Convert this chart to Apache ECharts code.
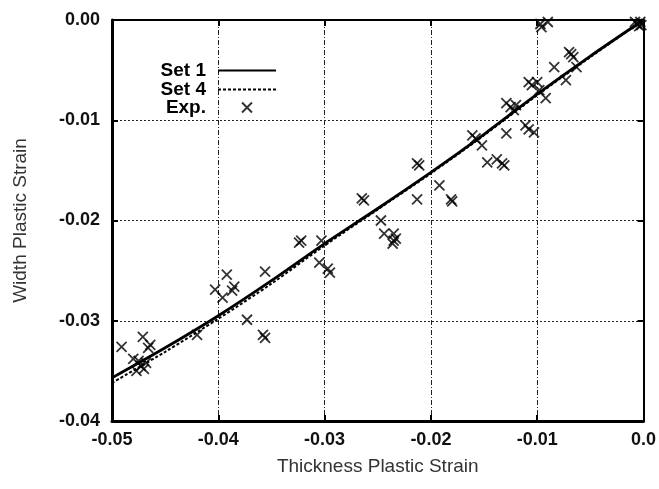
<!DOCTYPE html>
<html>
<head>
<meta charset="utf-8">
<script src="https://cdn.jsdelivr.net/npm/echarts@6/dist/echarts.min.js"></script>
<style>
html,body{margin:0;padding:0;background:#fff}
#chart{width:659px;height:489px}
</style>
</head>
<body>
<div id="chart"></div>
<script>
// Thickness strain sampling for the two simulated curves
const strainX = [-0.05, -0.045, -0.04, -0.035, -0.03, -0.025, -0.02, -0.015, -0.01, -0.005, 0];
const set1 = [-0.0357, -0.0327, -0.0295, -0.0260, -0.0223, -0.0188, -0.0152, -0.0114, -0.0074, -0.0036, 0];
const set4 = [-0.0362, -0.0331, -0.0298, -0.0263, -0.0225, -0.0189, -0.0153, -0.0115, -0.0075, -0.0037, 0];

// Experimental measurements [thickness strain, width strain]
const expPoints = [
  [-0.0003,-0.0002],[-0.0006,-0.0004],[-0.0002,-0.0005],[-0.0008,-0.0002],[-0.0004,-0.0006],
  [-0.0097,-0.0004],[-0.0096,-0.0007],[-0.0090,-0.0002],
  [-0.0070,-0.0032],[-0.0068,-0.0034],[-0.0066,-0.0037],[-0.0063,-0.0047],
  [-0.0084,-0.0047],[-0.0073,-0.0060],
  [-0.0108,-0.0062],[-0.0105,-0.0065],[-0.0100,-0.0062],[-0.0098,-0.0070],[-0.0092,-0.0078],
  [-0.0129,-0.0083],[-0.0125,-0.0087],[-0.0120,-0.0085],[-0.0122,-0.0090],
  [-0.0111,-0.0105],[-0.0108,-0.0109],[-0.0103,-0.0112],
  [-0.0129,-0.0113],
  [-0.0161,-0.0115],[-0.0158,-0.0118],[-0.0152,-0.0125],
  [-0.0147,-0.0142],[-0.0138,-0.0139],[-0.0133,-0.0143],[-0.0131,-0.0145],
  [-0.0213,-0.0143],[-0.0211,-0.0145],
  [-0.0192,-0.0165],
  [-0.0213,-0.0179],
  [-0.0181,-0.0179],[-0.0180,-0.0181],
  [-0.0265,-0.0178],[-0.0263,-0.0180],
  [-0.0247,-0.0200],
  [-0.0244,-0.0213],
  [-0.0235,-0.0213],[-0.0235,-0.0220],[-0.0236,-0.0223],[-0.0233,-0.0218],
  [-0.0324,-0.0222],[-0.0322,-0.0220],
  [-0.0303,-0.0220],
  [-0.0305,-0.0242],
  [-0.0297,-0.0248],[-0.0295,-0.0252],
  [-0.0356,-0.0251],
  [-0.0392,-0.0254],
  [-0.0403,-0.0269],
  [-0.0385,-0.0266],[-0.0387,-0.0270],
  [-0.0396,-0.0277],
  [-0.0373,-0.0299],
  [-0.0420,-0.0314],
  [-0.0358,-0.0314],[-0.0356,-0.0317],
  [-0.0491,-0.0326],
  [-0.0471,-0.0316],
  [-0.0464,-0.0324],[-0.0466,-0.0327],
  [-0.0475,-0.0340],[-0.0473,-0.0345],[-0.0470,-0.0348],[-0.0477,-0.0350],[-0.0480,-0.0338],[-0.0468,-0.0342]
];

const xTickLabels = ['-0.05', '-0.04', '-0.03', '-0.02', '-0.01', '0.0'];
const yTickLabels = ['-0.04', '-0.03', '-0.02', '-0.01', '0.00'];

const X_MIN = -0.05, X_MAX = 0, Y_MIN = -0.04, Y_MAX = 0, STEP = 0.01;
const FONT = '"Liberation Sans", Arial, Helvetica, sans-serif';

function tickText(labels, min) {
  return v => labels[Math.round((v - min) / STEP)] ?? '';
}

const crossPath = 'path://M0,0L10,10M10,0L0,10';

const mirrorAxis = {
  type: 'value', interval: STEP,
  axisLine: { show: true, onZero: false, lineStyle: { color: '#000', width: 2 } },
  axisTick: { show: true, inside: true, length: 6, lineStyle: { color: '#000', width: 2 } },
  axisLabel: { show: false },
  splitLine: { show: false }
};

const legendText = { fontSize: 19, color: '#000', fontFamily: FONT, fontWeight: 'bold' };

const chart = echarts.init(document.getElementById('chart'), null, { renderer: 'canvas' });

chart.setOption({
  backgroundColor: '#fff',
  animation: false,
  textStyle: { fontFamily: FONT },
  grid: { left: 112, right: 14, top: 20, bottom: 68, containLabel: false },
  legend: [
    { data: ['Set 1'], top: 61, right: 382, padding: 0, align: 'right', itemWidth: 58, itemHeight: 12,
      itemStyle: { opacity: 0 },
      textStyle: Object.assign({ padding: [0, 7, 0, 0] }, legendText) },
    { data: ['Set 4'], top: 80, right: 382, padding: 0, align: 'right', itemWidth: 58, itemHeight: 12,
      itemStyle: { opacity: 0 },
      textStyle: Object.assign({ padding: [0, 7, 0, 0] }, legendText) },
    { data: ['Exp.'], top: 98, right: 406, padding: 0, align: 'right', itemWidth: 10, itemHeight: 10,
      textStyle: Object.assign({ padding: [0, 31, 0, 0] }, legendText) }
  ],
  xAxis: [
    {
      type: 'value', min: X_MIN, max: X_MAX, interval: STEP, position: 'bottom',
      name: 'Thickness Plastic Strain', nameLocation: 'middle', nameGap: 36,
      nameTextStyle: { fontSize: 19, color: '#333', fontFamily: FONT },
      axisLine: { show: true, onZero: false, lineStyle: { color: '#000', width: 3 } },
      axisTick: { show: true, inside: true, length: 6, lineStyle: { color: '#000', width: 2 } },
      axisLabel: { fontSize: 18, fontWeight: 'bold', color: '#111', margin: 10, formatter: tickText(xTickLabels, X_MIN) },
      splitLine: { show: true, lineStyle: { color: '#222', width: 1, type: [5, 2, 1, 2] } }
    },
    Object.assign({}, mirrorAxis, { min: X_MIN, max: X_MAX, position: 'top' })
  ],
  yAxis: [
    {
      type: 'value', min: Y_MIN, max: Y_MAX, interval: STEP, position: 'left',
      name: 'Width Plastic Strain', nameLocation: 'middle', nameGap: 82,
      nameTextStyle: { fontSize: 19, color: '#333', fontFamily: FONT },
      axisLine: { show: true, onZero: false, lineStyle: { color: '#000', width: 3 } },
      axisTick: { show: true, inside: true, length: 6, lineStyle: { color: '#000', width: 2 } },
      axisLabel: { fontSize: 18, fontWeight: 'bold', color: '#111', margin: 12, formatter: tickText(yTickLabels, Y_MIN) },
      splitLine: { show: true, lineStyle: { color: '#222', width: 1, type: [2, 2] } }
    },
    Object.assign({}, mirrorAxis, { min: Y_MIN, max: Y_MAX, position: 'right' })
  ],
  series: [
    {
      name: 'Set 4', type: 'line', symbol: 'none', smooth: 0.3,
      data: strainX.map((x, i) => [x, set4[i]]),
      lineStyle: { color: '#000', width: 2, type: [3, 2] },
      itemStyle: { color: '#000' }, z: 3
    },
    {
      name: 'Set 1', type: 'line', symbol: 'none', smooth: 0.3,
      data: strainX.map((x, i) => [x, set1[i]]),
      lineStyle: { color: '#000', width: 2.8 },
      itemStyle: { color: '#000' }, z: 4
    },
    {
      name: 'Exp.', type: 'scatter', symbol: crossPath, symbolSize: 10, symbolKeepAspect: true,
      data: expPoints,
      itemStyle: { color: 'rgba(0,0,0,0)', borderColor: '#000', borderWidth: 1.8 }, z: 5
    }
  ]
});
</script>
</body>
</html>
